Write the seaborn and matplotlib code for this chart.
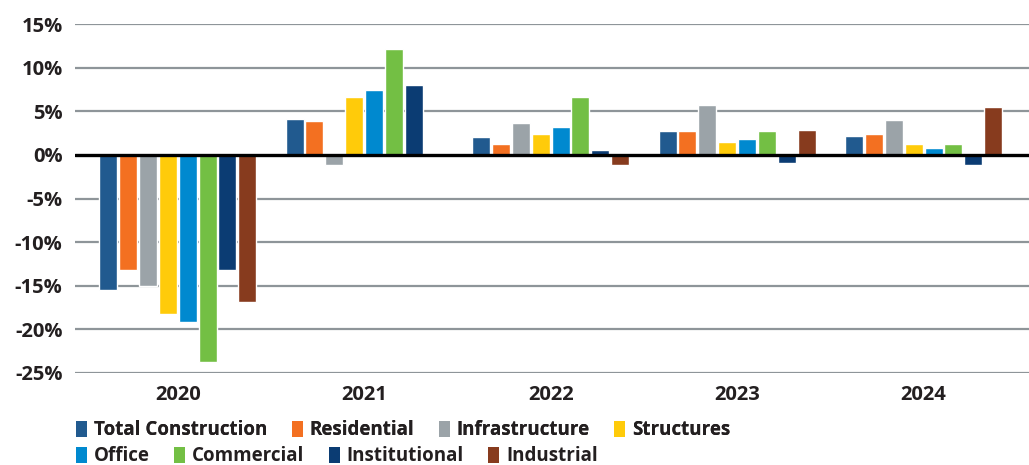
import numpy as np
import pandas as pd
import matplotlib
matplotlib.use("Agg")
import matplotlib.pyplot as plt
from matplotlib.patches import Patch
import seaborn as sns

years = ["2020", "2021", "2022", "2023", "2024"]
sectors = ["Total Construction", "Residential", "Infrastructure", "Structures",
           "Office", "Commercial", "Institutional", "Industrial"]
total_construction = [-15.5, 4.1, 2.1, 2.8, 2.2]
residential = [-13.2, 3.85, 1.2, 2.7, 2.35]
infrastructure = [-15.0, -1.1, 3.7, 5.7, 4.0]
structures = [-18.2, 6.7, 2.35, 1.5, 1.3]
office = [-19.2, 7.5, 3.15, 1.8, 0.85]
commercial = [-23.8, 12.15, 6.7, 2.8, 1.3]
institutional = [-13.2, 8.0, 0.6, -0.9, -1.2]
industrial = [-16.9, 0.15, -1.1, 2.9, 5.45]
colors = ["#215A8F", "#F37021", "#9BA3A8", "#FFCB0A",
          "#0089CF", "#73BF44", "#0B3C73", "#873B1E"]
yticks = [-25, -20, -15, -10, -5, 0, 5, 10, 15]

series = [total_construction, residential, infrastructure, structures,
          office, commercial, institutional, industrial]
rows = []
for s, vals in zip(sectors, series):
    for y, v in zip(years, vals):
        rows.append({"Year": y, "Sector": s, "Value": v})
df = pd.DataFrame(rows)

sns.set_theme(style="white")
plt.rcParams['font.family'] = ['Open Sans', 'DejaVu Sans']

fig = plt.figure(figsize=(10.29, 4.65), dpi=100)
ax = fig.add_axes([0.073, 0.198, 0.927, 0.750])

sns.barplot(data=df, x="Year", y="Value", hue="Sector", order=years,
            hue_order=sectors, palette=colors, width=0.853, gap=0.095,
            saturation=1, errorbar=None, legend=False, ax=ax, zorder=3)

ax.set_ylim(-25, 15)
ax.set_xlim(-0.55, 4.565)
ax.set_yticks(yticks)
ax.set_yticklabels([f"{t}%" for t in yticks])
for t in yticks:
    if t != 0:
        ax.axhline(t, color="#8E9599", lw=1.6, zorder=1)
ax.axhline(0, color="#000000", lw=2.4, zorder=4)
for sp in ax.spines.values():
    sp.set_visible(False)
ax.set_xlabel("")
ax.set_ylabel("")
ax.tick_params(axis="y", length=0, pad=9, labelsize=14.5, labelcolor="#231F20")
ax.tick_params(axis="x", length=0, pad=9, labelsize=14.5, labelcolor="#231F20")
for lab in ax.get_yticklabels() + ax.get_xticklabels():
    lab.set_fontweight("bold")

def make_legend(names, cols, y):
    handles = [Patch(facecolor=c, edgecolor="none") for c in cols]
    leg = fig.legend(handles, names, loc="lower left", bbox_to_anchor=(0.074, y),
                     ncol=len(names), frameon=False, handlelength=0.6,
                     handleheight=0.95, handletextpad=0.35, columnspacing=1.3,
                     borderpad=0, borderaxespad=0,
                     prop={"weight": "bold", "size": 13.5})
    for t in leg.get_texts():
        t.set_color("#231F20")
    return leg

leg1 = make_legend(sectors[:4], colors[:4], 0.053)
fig.add_artist(leg1)
make_legend(sectors[4:], colors[4:], -0.003)

fig.savefig("out.png", dpi=100)
